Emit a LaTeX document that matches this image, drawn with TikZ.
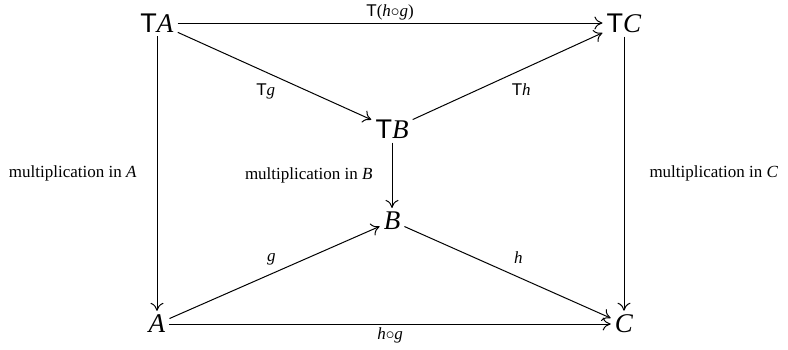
\documentclass[tikz,border=0pt]{standalone}
\usepackage{fontspec}
\setmainfont{Liberation Serif}
\newfontfamily\tsans{Liberation Sans}
\usetikzlibrary{arrows.meta,positioning}
\tikzset{
  obj/.style={font=\fontsize{27}{30}\selectfont, inner sep=4pt},
  lab/.style={font=\fontsize{17}{20}\selectfont, inner sep=1pt},
  arr/.style={-{Computer Modern Rightarrow[length=8pt,width=13pt]}, line width=1pt},
}
\newcommand{\Tf}{{\tsans T}}
\begin{document}
\begin{tikzpicture}[x=1pt,y=-1pt]
\useasboundingbox (0,0) rectangle (788,349);
\node[obj] (TA) at (157,23) {\Tf\textit{A}};
\node[obj] (TC) at (624,23) {\Tf\textit{C}};
\node[obj] (TB) at (392,129) {\Tf\textit{B}};
\node[obj] (B) at (392,221) {\textit{B}};
\node[obj] (A) at (157,324) {\textit{A}};
\node[obj] (C) at (624,324) {\textit{C}};
\draw[arr] (TA) -- node[lab, above=1pt] {\Tf(\textit{h}$\circ$\textit{g})} (TC);
\draw[arr] (TA) -- node[lab, below left=9pt and -8pt, pos=0.47] {\Tf\textit{g}} (TB);
\draw[arr] (TB) -- node[lab, below right=9pt and -3pt, pos=0.53] {\Tf\textit{h}} (TC);
\draw[arr] (TA) -- node[lab, left=19pt] {multiplication in \textit{A}} (A);
\draw[arr] (TB) -- node[lab, left=18pt] {multiplication in \textit{B}} (B);
\draw[arr] (TC) -- node[lab, right=24pt] {multiplication in \textit{C}} (C);
\draw[arr] (A) -- node[lab, above left=9pt and -9pt, pos=0.47] {\textit{g}} (B);
\draw[arr] (B) -- node[lab, above right=10pt and -1pt, pos=0.53] {\textit{h}} (C);
\draw[arr] (A) -- node[lab, below=2pt] {\textit{h}$\circ$\textit{g}} (C);
\end{tikzpicture}
\end{document}
